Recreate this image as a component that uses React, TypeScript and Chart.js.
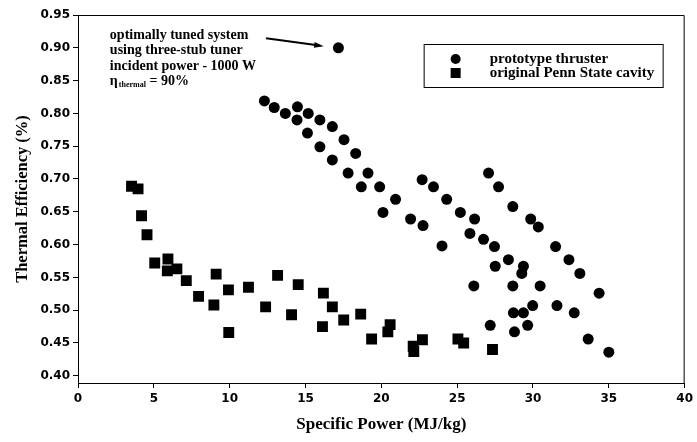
import React, { useEffect, useRef } from 'react';
import { Chart, registerables } from 'chart.js';

Chart.register(...registerables);

// ---- data ----
const seriesLabels = ['prototype thruster', 'original Penn State cavity'];

const prototypeX = [
  17.17, 12.29, 12.94, 13.67, 14.47, 14.44, 15.18, 15.95, 16.77, 15.13, 17.54, 15.95, 18.31, 16.77,
  17.81, 19.12, 18.68, 19.89, 20.94, 20.11, 21.93, 22.75, 24.0, 22.69, 23.44, 24.31, 25.21, 26.15,
  25.84, 26.1, 26.74, 27.46, 27.07, 27.73, 28.67, 29.85, 30.35, 28.38, 27.51, 29.37, 29.26, 28.67,
  30.47, 31.49, 32.37, 33.09, 34.36, 29.98, 29.37, 28.71, 31.58, 32.72, 29.65, 28.78, 27.18, 33.64, 35.0,
];
const prototypeY = [
  0.9, 0.819, 0.809, 0.8, 0.81, 0.79, 0.8, 0.79, 0.78, 0.77, 0.76, 0.749, 0.739, 0.729,
  0.709, 0.709, 0.688, 0.688, 0.669, 0.649, 0.639, 0.629, 0.598, 0.699, 0.688, 0.669, 0.649, 0.639,
  0.617, 0.537, 0.608, 0.597, 0.709, 0.688, 0.658, 0.639, 0.627, 0.577, 0.567, 0.567, 0.556, 0.537,
  0.537, 0.597, 0.577, 0.556, 0.526, 0.507, 0.496, 0.496, 0.507, 0.496, 0.477, 0.467, 0.477, 0.456, 0.436,
];

const pennX = [
  3.53, 3.96, 4.19, 4.55, 5.06, 5.93, 5.89, 6.52, 7.14, 7.95, 8.96, 9.11, 9.92, 9.94, 11.24, 12.37,
  13.16, 14.08, 14.52, 16.18, 16.77, 16.12, 17.52, 18.64, 19.36, 20.58, 20.43, 22.1, 22.14, 22.71,
  25.05, 25.43, 27.33,
];
const pennY = [
  0.689, 0.685, 0.644, 0.615, 0.572, 0.578, 0.56, 0.563, 0.545, 0.521, 0.508, 0.555, 0.531, 0.466, 0.535, 0.505,
  0.553, 0.493, 0.539, 0.526, 0.505, 0.475, 0.485, 0.494, 0.456, 0.478, 0.467, 0.445, 0.437, 0.455,
  0.456, 0.45, 0.44,
];

const xTicks = [0, 5, 10, 15, 20, 25, 30, 35, 40];
const yTicks = [0.4, 0.45, 0.5, 0.55, 0.6, 0.65, 0.7, 0.75, 0.8, 0.85, 0.9, 0.95];

const xTitle = 'Specific Power (MJ/kg)';
const yTitle = 'Thermal Efficiency (%)';

const annotationLines = ['optimally tuned system', 'using three-stub tuner', 'incident power - 1000 W'];
const etaSymbol = 'η';
const etaSub = 'thermal';
const etaRest = ' = 90%';
const annotationAnchor = { x: 2.1, y: 0.9195 };
const arrowFrom = { x: 12.4, y: 0.9145 };
const arrowTo = { x: 16.2, y: 0.9025 };

const serif = '"Liberation Serif", serif';

const overlayPlugin = {
  id: 'overlay',
  afterDraw(chart: any) {
    const { ctx, chartArea, scales } = chart;
    const xs = scales.x;
    const ys = scales.y;
    ctx.save();
    // frame top + right
    ctx.strokeStyle = '#000';
    ctx.lineWidth = 1;
    ctx.beginPath();
    ctx.moveTo(chartArea.left, chartArea.top + 0.5);
    ctx.lineTo(chartArea.right - 0.5, chartArea.top + 0.5);
    ctx.lineTo(chartArea.right - 0.5, chartArea.bottom);
    ctx.stroke();

    // annotation text
    ctx.fillStyle = '#000';
    ctx.font = `bold 14px ${serif}`;
    ctx.textBaseline = 'middle';
    ctx.textAlign = 'left';
    const ax = xs.getPixelForValue(annotationAnchor.x);
    const ay = ys.getPixelForValue(annotationAnchor.y);
    const lh = 15.5;
    annotationLines.forEach((t, i) => ctx.fillText(t, ax, ay + i * lh));
    const ey = ay + annotationLines.length * lh;
    ctx.fillText(etaSymbol, ax, ey);
    let cx = ax + ctx.measureText(etaSymbol).width + 1;
    ctx.font = `bold 8px ${serif}`;
    ctx.fillText(etaSub, cx, ey + 3);
    cx += ctx.measureText(etaSub).width;
    ctx.font = `bold 14px ${serif}`;
    ctx.fillText(etaRest, cx, ey);

    // arrow
    const x1 = xs.getPixelForValue(arrowFrom.x);
    const y1 = ys.getPixelForValue(arrowFrom.y);
    const x2 = xs.getPixelForValue(arrowTo.x);
    const y2 = ys.getPixelForValue(arrowTo.y);
    const ang = Math.atan2(y2 - y1, x2 - x1);
    const head = 10;
    ctx.lineWidth = 2;
    ctx.beginPath();
    ctx.moveTo(x1, y1);
    ctx.lineTo(x2 - Math.cos(ang) * head * 0.8, y2 - Math.sin(ang) * head * 0.8);
    ctx.stroke();
    ctx.beginPath();
    ctx.moveTo(x2, y2);
    ctx.lineTo(x2 - head * Math.cos(ang - 0.3), y2 - head * Math.sin(ang - 0.3));
    ctx.lineTo(x2 - head * Math.cos(ang + 0.3), y2 - head * Math.sin(ang + 0.3));
    ctx.closePath();
    ctx.fill();

    // legend box
    const bw = 239;
    const bh = 43;
    const bx = chartArea.right - 22 - bw;
    const by = chartArea.top + 29;
    ctx.lineWidth = 1;
    ctx.strokeRect(bx + 0.5, by + 0.5, bw, bh);
    ctx.font = `bold 15px ${serif}`;
    const mx = bx + 32;
    const tx = bx + 66;
    const r1 = by + 15;
    const r2 = by + 29;
    ctx.beginPath();
    ctx.arc(mx, r1, 5, 0, Math.PI * 2);
    ctx.fill();
    ctx.fillRect(mx - 5, r2 - 5, 10, 10);
    ctx.fillText(chart.data.datasets[0].label, tx, r1);
    ctx.fillText(chart.data.datasets[1].label, tx, r2);
    ctx.restore();
  },
};

export default function App() {
  const ref = useRef<HTMLCanvasElement | null>(null);
  useEffect(() => {
    document.body.style.margin = '0';
    const canvas = ref.current;
    if (!canvas) return;
    const tickFont = { family: '"DejaVu Sans", sans-serif', size: 12, weight: 'bold' as const };
    const chart = new Chart(canvas, {
      type: 'scatter',
      data: {
        datasets: [
          {
            label: seriesLabels[0],
            data: prototypeX.map((x, i) => ({ x, y: prototypeY[i] })),
            pointStyle: 'circle',
            pointRadius: 5.5,
            backgroundColor: '#000',
            borderWidth: 0,
          },
          {
            label: seriesLabels[1],
            data: pennX.map((x, i) => ({ x, y: pennY[i] })),
            pointStyle: 'rect',
            pointRadius: 7.7,
            backgroundColor: '#000',
            borderWidth: 0,
          },
        ],
      },
      options: {
        responsive: false,
        animation: false,
        layout: { padding: { left: 0, right: 10, top: 15, bottom: 0 } },
        plugins: { legend: { display: false }, tooltip: { enabled: false } },
        scales: {
          x: {
            type: 'linear',
            min: 0,
            max: 40,
            afterBuildTicks: (axis: any) => {
              axis.ticks = xTicks.map((v) => ({ value: v }));
            },
            afterFit: (axis: any) => {
              axis.height = 59;
            },
            ticks: { color: '#000', font: tickFont, padding: 4, maxRotation: 0, callback: (v: any) => String(v) },
            grid: { drawOnChartArea: false, drawTicks: true, tickLength: 5, color: '#000' },
            border: { color: '#000', width: 1 },
            title: {
              display: true,
              text: xTitle,
              color: '#000',
              font: { family: serif, size: 17, weight: 'bold' as const },
              padding: { top: 0, bottom: 7 },
            },
          },
          y: {
            type: 'linear',
            min: 0.389,
            max: 0.95,
            afterBuildTicks: (axis: any) => {
              axis.ticks = yTicks.map((v) => ({ value: v }));
            },
            afterFit: (axis: any) => {
              axis.width = 78;
            },
            ticks: { color: '#000', font: tickFont, padding: 3, callback: (v: any) => Number(v).toFixed(2) },
            grid: { drawOnChartArea: false, drawTicks: true, tickLength: 5, color: '#000' },
            border: { color: '#000', width: 1 },
            title: {
              display: true,
              text: yTitle,
              color: '#000',
              font: { family: serif, size: 16.5, weight: 'bold' as const },
              padding: { top: 12.5, bottom: 0 },
            },
          },
        },
      },
      plugins: [overlayPlugin],
    });
    return () => chart.destroy();
  }, []);
  return (
    <div style={{ width: 697, height: 442 }}>
      <canvas ref={ref} width={697} height={442} />
    </div>
  );
}
